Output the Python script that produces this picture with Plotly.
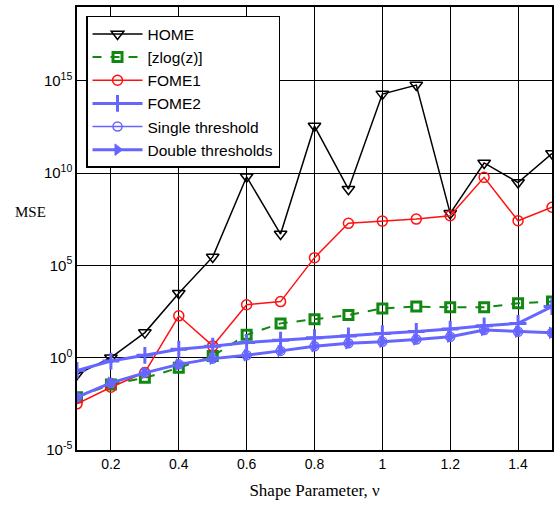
import plotly.graph_objects as go

nu = [0.1, 0.2, 0.3, 0.4, 0.5, 0.6, 0.7, 0.8, 0.9, 1.0, 1.1, 1.2, 1.3, 1.4, 1.5]

# log10(MSE)
home_log = [-0.9, 0.0, 1.36, 3.49, 5.46, 9.8, 6.7, 12.55, 9.13, 14.28, 14.77, 7.82, 10.55, 9.49, 11.06]
zlog_log = [-2.14, -1.45, -1.09, -0.55, 0.09, 1.24, 1.86, 2.08, 2.31, 2.67, 2.77, 2.73, 2.73, 2.95, 3.04]
fome1_log = [-2.5, -1.6, -0.8, 2.27, 0.64, 2.87, 3.04, 5.42, 7.28, 7.40, 7.51, 7.69, 9.77, 7.42, 8.15]
fome2_log = [-0.69, -0.18, 0.13, 0.46, 0.62, 0.82, 0.95, 1.08, 1.18, 1.31, 1.42, 1.55, 1.73, 1.86, 2.77]
single_log = [-2.14, -1.36, -0.82, -0.36, -0.05, 0.13, 0.37, 0.62, 0.78, 0.86, 0.99, 1.14, 1.5, 1.41, 1.35]
double_log = [-2.14, -1.36, -0.82, -0.36, -0.05, 0.13, 0.37, 0.62, 0.78, 0.86, 0.99, 1.14, 1.5, 1.41, 1.35]

ytick_exp = [-5, 0, 5, 10, 15]
xtick_vals = [0.2, 0.4, 0.6, 0.8, 1.0, 1.2, 1.4]
xtick_text = ["0.2", "0.4", "0.6", "0.8", "1", "1.2", "1.4"]

def lin(vals):
    return [10 ** v for v in vals]

BLUE = "#6666FF"
fig = go.Figure()
fig.add_trace(go.Scatter(x=nu, y=lin(home_log), name="HOME", mode="lines+markers",
                         line=dict(color="black", width=1.5),
                         marker=dict(symbol="triangle-down-open", size=11, color="black",
                                     line=dict(width=1.5, color="black"))))
fig.add_trace(go.Scatter(x=nu, y=lin(zlog_log), name="[zlog(z)]", mode="lines+markers",
                         line=dict(color="#118811", width=2, dash="dash"),
                         marker=dict(symbol="square-open", size=9, color="#118811",
                                     line=dict(width=3, color="#118811"))))
fig.add_trace(go.Scatter(x=nu, y=lin(fome1_log), name="FOME1", mode="lines+markers",
                         line=dict(color="#FF1111", width=1.5),
                         marker=dict(symbol="circle-open", size=10, color="#FF1111",
                                     line=dict(width=1.5, color="#FF1111"))))
fig.add_trace(go.Scatter(x=nu, y=lin(fome2_log), name="FOME2", mode="lines+markers",
                         line=dict(color=BLUE, width=3),
                         marker=dict(symbol="cross-thin-open", size=12, color=BLUE,
                                     line=dict(width=3, color=BLUE))))
fig.add_trace(go.Scatter(x=nu, y=lin(single_log), name="Single threshold", mode="lines+markers",
                         line=dict(color=BLUE, width=1.5),
                         marker=dict(symbol="circle-open", size=9, color=BLUE,
                                     line=dict(width=1.5, color=BLUE))))
fig.add_trace(go.Scatter(x=nu, y=lin(double_log), name="Double thresholds", mode="lines+markers",
                         line=dict(color=BLUE, width=3),
                         marker=dict(symbol="triangle-right", size=10, color=BLUE,
                                     line=dict(width=1, color=BLUE))))

fig.update_layout(
    width=556, height=507,
    margin=dict(l=77, r=2, t=7, b=57),
    paper_bgcolor="white", plot_bgcolor="white",
    font=dict(family="Liberation Sans, Arial", size=14, color="black"),
    showlegend=True,
    legend=dict(x=0.019, y=0.98, xanchor="left", yanchor="top",
                bgcolor="white", bordercolor="black", borderwidth=1.5,
                font=dict(family="Liberation Sans, Arial", size=15.5, color="black"),
                itemwidth=50, tracegroupgap=0),
    xaxis=dict(range=[0.1, 1.5], tickvals=xtick_vals, ticktext=xtick_text,
               showgrid=True, gridcolor="black", gridwidth=1,
               showline=True, linecolor="black", linewidth=1.5, mirror=True,
               ticks="inside", ticklen=3, tickcolor="black",
               zeroline=False,
               title=dict(text="Shape Parameter, ν",
                          font=dict(family="Liberation Serif, Times New Roman", size=17),
                          standoff=14)),
    yaxis=dict(type="log", range=[-5, 19],
               tickvals=[10 ** e for e in ytick_exp],
               ticktext=["10<sup>%d</sup>" % e for e in ytick_exp],
               showgrid=True, gridcolor="black", gridwidth=1,
               showline=True, linecolor="black", linewidth=1.5, mirror=True,
               ticks="inside", ticklen=3, tickcolor="black",
               zeroline=False, tickfont=dict(size=15)),
    annotations=[dict(text="MSE", xref="paper", yref="paper", x=-0.098, y=0.537,
                      xanchor="center", yanchor="middle", showarrow=False,
                      font=dict(family="Liberation Serif, Times New Roman", size=15))],
)

fig.write_html("out.html", config={"displayModeBar": False},
               post_script="document.body.style.margin='0';document.body.style.overflow='hidden';")
